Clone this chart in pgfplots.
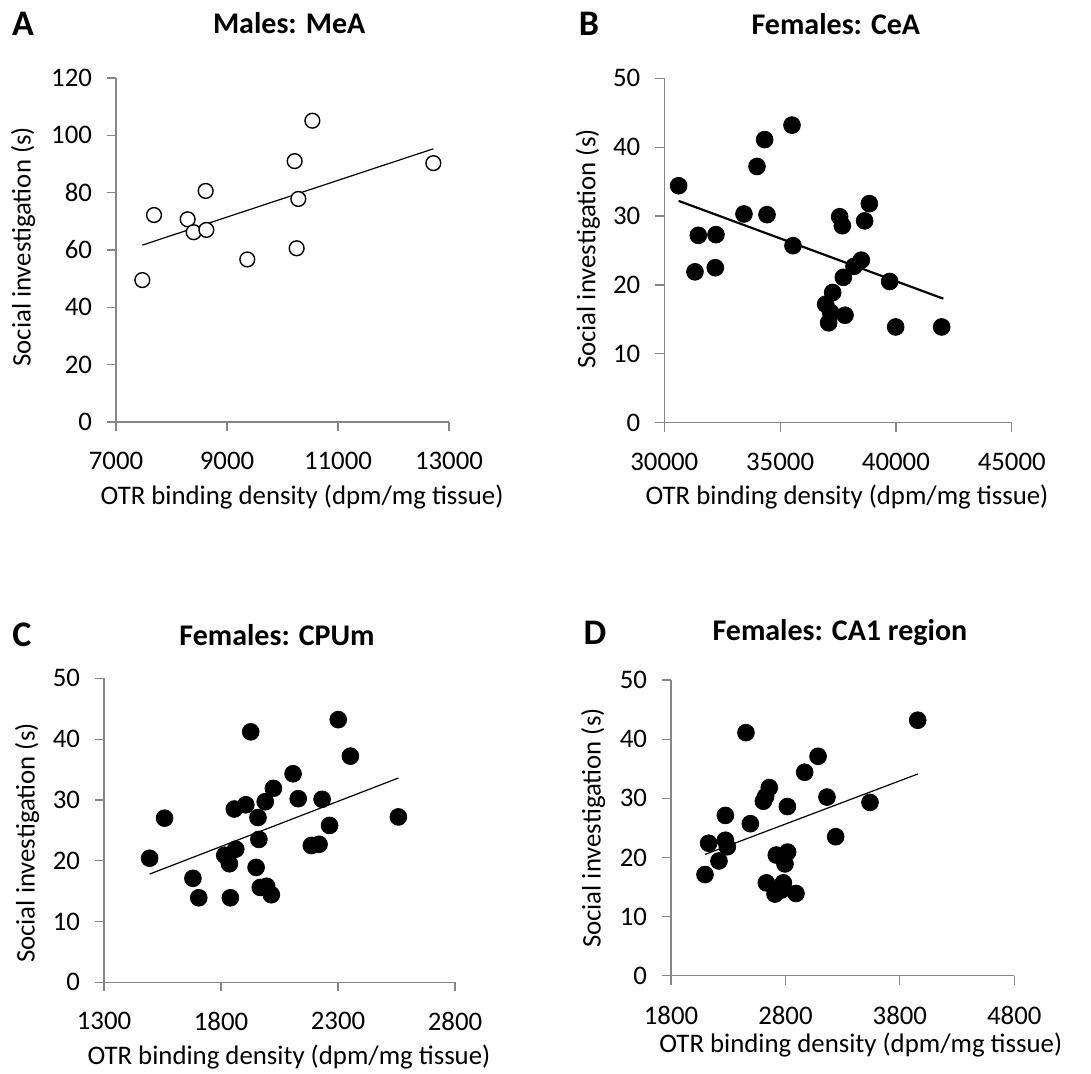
\documentclass[border=0pt]{standalone}
\usepackage{fontspec}
\setmainfont{Carlito}
\usepackage{pgfplots}
\pgfplotsset{compat=1.18}
\definecolor{axisgray}{RGB}{134,134,134}

\pgfplotsset{
  panel/.style={
    scale only axis, anchor=south west, clip=false,
    axis x line=bottom, axis y line=left,
    axis line style={-, draw=axisgray, line width=0.6pt},
    tick align=outside, major tick length=4.5pt,
    tick style={draw=axisgray, line width=0.6pt},
    tick label style={font=\fontsize{13.4}{16}\selectfont, black},
    xticklabel style={yshift=-7pt},
    yticklabel style={xshift=-4pt},
    scaled ticks=false,
    /pgf/number format/assume math mode=true,
    /pgf/number format/fixed, /pgf/number format/precision=0,
    /pgf/number format/set thousands separator={},
    label style={font=\fontsize{13.4}{16}\selectfont},
    every axis title shift=0pt,
    title style={font=\bfseries\fontsize{15}{18}\selectfont, anchor=center},
    xlabel={OTR binding density (dpm/mg tissue)},
    ylabel={Social investigation (s)},
    xlabel style={anchor=center}, ylabel style={anchor=center},
  },
  dots/.style={only marks, mark=*, mark size=4.2pt, mark options={fill=black, draw=black}},
  rings/.style={only marks, mark=*, mark size=3.7pt, mark options={fill=white, draw=black, line width=0.7pt}},
}

\begin{document}
\begin{tikzpicture}
\useasboundingbox (0pt,0pt) rectangle (545.5pt,537pt);

% A: males, MeA
\begin{axis}[panel, at={(58pt,326pt)}, width=166.5pt, height=172pt,
  xmin=7000, xmax=13000, ymin=0, ymax=120,
  xtick={7000,9000,11000,13000}, ytick={0,20,...,120},
  title={Males: MeA}, title style={at={(axis description cs:0.52,1.16)}},
  xlabel style={at={(axis description cs:0.559,-0.218)}},
  ylabel style={at={(axis description cs:-0.279,0.509)}}]
\addplot[rings] coordinates {
  (7474,49.5)(7685,72.2)(8291,70.7)(8399,66.2)(8616,80.6)(8628,67.0)
  (9366,56.7)(10219,91.0)(10285,77.8)(10255,60.6)(10538,105.1)(12718,90.3)
};
\addplot[black, line width=0.6pt, mark=none] coordinates {(7474,61.7)(12718,95.3)};
\end{axis}

% B: females, CeA
\begin{axis}[panel, at={(332.15pt,325.65pt)}, width=173.7pt, height=172.2pt,
  xmin=30000, xmax=45000, ymin=0, ymax=50,
  xtick={30000,35000,40000,45000}, ytick={0,10,...,50},
  title={Females: CeA}, title style={at={(axis description cs:0.494,1.158)}},
  xlabel style={at={(axis description cs:0.526,-0.216)}},
  ylabel style={at={(axis description cs:-0.220,0.504)}}]
\addplot[dots] coordinates {
  (30619,34.4)(31468,27.2)(31324,21.9)(32231,27.3)(32202,22.5)(33440,30.3)
  (34002,37.2)(34333,41.1)(34434,30.2)(35513,43.2)(35556,25.7)(36967,17.2)
  (37183,16.0)(37097,14.5)(37270,18.9)(37572,29.9)(37687,28.6)(37730,21.1)
  (37802,15.6)(38191,22.7)(38507,23.6)(38651,29.3)(38853,31.8)(39731,20.5)
  (39990,13.9)(41976,13.9)
};
\addplot[black, line width=1.1pt, mark=none] coordinates {(30619,32.2)(42049,18.0)};
\end{axis}

% C: females, CPUm
\begin{axis}[panel, at={(52pt,45.85pt)}, width=175.5pt, height=152pt,
  xmin=1300, xmax=2800, ymin=0, ymax=50,
  xtick={1300,1800,2300,2800}, ytick={0,10,...,50},
  title={Females: CPUm}, title style={at={(axis description cs:0.493,1.142)}},
  xlabel style={at={(axis description cs:0.527,-0.246)}},
  ylabel style={at={(axis description cs:-0.219,0.458)}}]
\addplot[dots] coordinates {
  (1495,20.4)(1559,27.0)(1680,17.1)(1705,13.9)(1816,20.9)(1836,19.5)
  (1840,13.9)(1857,28.5)(1863,21.9)(1906,29.2)(1927,41.2)(1950,18.9)
  (1958,27.1)(1962,23.5)(1968,15.6)(1989,29.7)(1995,15.8)(2015,14.4)
  (2024,31.9)(2108,34.3)(2130,30.2)(2186,22.5)(2219,22.7)(2232,30.1)
  (2264,25.8)(2301,43.2)(2353,37.2)(2558,27.2)
};
\addplot[black, line width=0.6pt, mark=none] coordinates {(1495,17.8)(2558,33.6)};
\end{axis}

% D: females, CA1 region
\begin{axis}[panel, at={(335.5pt,49.15pt)}, width=171.65pt, height=147.85pt,
  xmin=1800, xmax=4800, ymin=0, ymax=50,
  xtick={1800,2800,3800,4800}, ytick={0,10,...,50},
  title={Females: CA1 region}, title style={at={(axis description cs:0.492,1.159)}},
  xlabel style={at={(axis description cs:0.553,-0.234)}},
  ylabel style={at={(axis description cs:-0.227,0.499)}}]
\addplot[dots] coordinates {
  (2097,17.1)(2129,22.4)(2219,19.4)(2275,27.1)(2275,22.9)(2292,21.8)
  (2455,41.1)(2493,25.7)(2607,29.5)(2627,30.3)(2659,31.8)(2633,15.7)
  (2709,13.8)(2720,20.4)(2767,14.5)(2782,15.7)(2796,18.9)(2819,20.9)
  (2817,28.6)(2892,13.9)(2968,34.4)(3085,37.1)(3163,30.2)(3239,23.5)
  (3539,29.3)(3956,43.2)
};
\addplot[black, line width=0.6pt, mark=none] coordinates {(2097,20.5)(3956,34.1)};
\end{axis}

% panel letters
\begin{scope}[every node/.style={font=\bfseries\fontsize{18}{21}\selectfont, anchor=center}]
\node at (11.5pt,525pt) {A};
\node at (294.5pt,525pt) {B};
\node at (11pt,219.5pt) {C};
\node at (297.5pt,220.5pt) {D};
\end{scope}
\end{tikzpicture}
\end{document}
